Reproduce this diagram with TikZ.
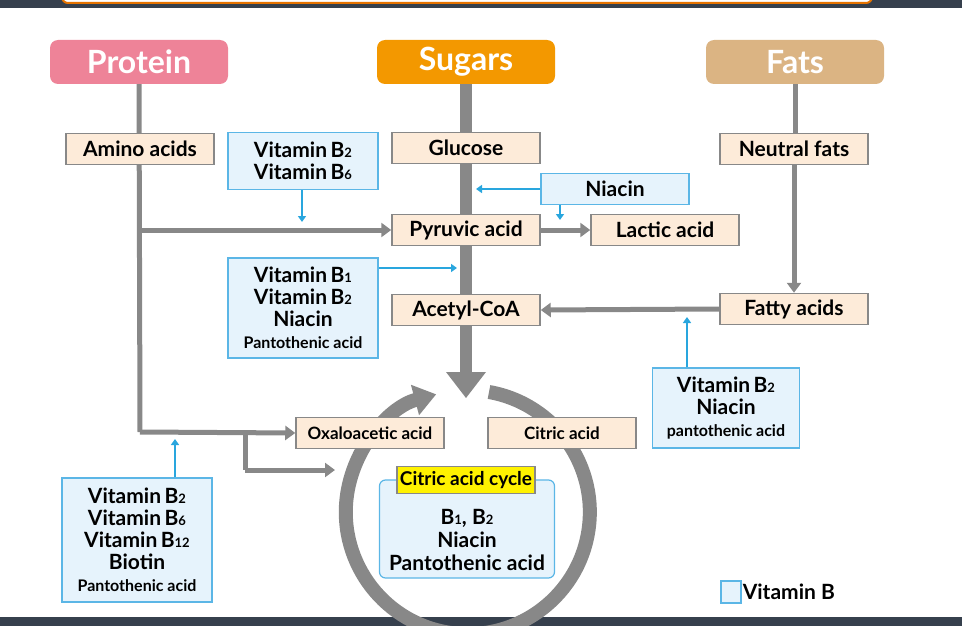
\documentclass[tikz,border=0pt]{standalone}
\usepackage{fontspec}
\setmainfont{Lato}
\usetikzlibrary{arrows.meta}
\definecolor{gr}{HTML}{888888}
\definecolor{cream}{HTML}{FDEBD9}
\definecolor{lb}{HTML}{E6F3FC}
\definecolor{bb}{HTML}{5BB6E6}
\definecolor{ba}{HTML}{29A6DE}
\definecolor{dark}{HTML}{36404D}
\newcommand{\vsb}[1]{{\fontsize{13}{13}\selectfont #1}}
\newcommand{\smt}{\fontsize{16}{19}\selectfont}
\begin{document}
\begin{tikzpicture}[x=1pt,y=-1pt,
 head/.style={rounded corners=8pt,minimum width=178pt,minimum height=44pt,text=white,font=\bfseries\fontsize{32}{32}\selectfont,inner sep=0pt},
 cb/.style={draw=gr,line width=1.5pt,fill=cream,minimum width=148pt,minimum height=31pt,font=\bfseries\fontsize{21}{21}\selectfont,inner sep=1pt},
 vb/.style={draw=bb,line width=1.2pt,fill=lb,align=center,font=\bfseries\fontsize{21}{22}\selectfont,inner sep=1pt},
 ga/.style={draw=gr,line width=5pt,-{Triangle[length=10pt,width=14pt]}},
 gl/.style={draw=gr,line width=5pt},
 bar/.style={draw=ba,line width=2.2pt,-{Triangle[length=6pt,width=8pt]}}]
\useasboundingbox (0,0) rectangle (962,626);
\fill[dark] (0,0) rectangle (962,8);
\draw[orange!90!black,line width=2pt,fill=white,rounded corners=6pt] (62,-20) rectangle (872,3);
\fill[dark] (0,617) rectangle (962,626);
% headers
\node[head,fill={rgb,255:red,238;green,131;blue,152}] (pro) at (139,62) {Protein};
\node[head,fill={rgb,255:red,243;green,152;blue,0}] (sug) at (466,62) {Sugars};
\node[head,fill={rgb,255:red,219;green,180;blue,131}] (fat) at (795,62) {Fats};
% circle
\draw[gr,line width=14pt,-{Triangle[length=22pt,width=30pt]}] (489,392) arc[start angle=-80,end angle=255,radius=122];
\draw[gr,line width=12pt] (sug.south) -- (466,375);
\coordinate (tip) at (466,398);
\fill[gr] (446,372) -- (486,372) -- (tip) -- cycle;
% lines
\coordinate (p1) at (140,230); \coordinate (p2) at (140,432); \coordinate (p3) at (245,432); \coordinate (p4) at (245,470);
\draw[gl] (pro.south) -- (p2);
\node[cb] (amino) at (140,149) {Amino acids};
\node[cb] (pyr) at (466,230) {Pyruvic acid};
\node[cb] (oxa) at (370,433) {\fontsize{17}{17}\selectfont Oxaloacetic acid};
\draw[ga] (p1) -- (pyr.west);
\draw[ga] (p2) -- (oxa.west);
\coordinate (cc) at (335,470);
\draw[gl] (p3) -- (p4);
\draw[ga] (p4) -- (cc);
\node[cb] (glu) at (466,148) {Glucose};
\node[cb] (ace) at (466,310) {Acetyl-CoA};
\node[cb] (lac) at (665,230) {Lactic acid};
\draw[ga] (pyr.east) -- (lac.west);
\node[cb] (cit) at (562,433) {\fontsize{17}{17}\selectfont Citric acid};
% fats
\draw[gl] (fat.south) -- (795,133);
\node[cb] (neu) at (794,149) {Neutral fats};
\node[cb] (fa) at (794,309) {Fatty acids};
\draw[ga] (neu.south) -- (fa.north);
\draw[ga] (fa.west) -- (ace.east);
% vitamin boxes
\node[vb,minimum width=150pt,minimum height=57pt] (v1) at (303,161) {Vitamin\,B\vsb{2}\\Vitamin\,B\vsb{6}};
\coordinate (v1t) at (302,222);
\draw[bar] (v1.south -| v1t) -- (v1t);
\node[vb,minimum width=148pt,minimum height=31pt] (nia) at (615,189) {Niacin};
\coordinate (n1) at (476,189); \coordinate (n2) at (560,220);
\draw[bar] (nia.west) -- (n1);
\draw[bar] (nia.south -| n2) -- (n2);
\node[vb,minimum width=150pt,minimum height=100pt] (v2) at (303,308) {Vitamin\,B\vsb{1}\\Vitamin\,B\vsb{2}\\Niacin\\{\smt Pantothenic acid}};
\coordinate (v2t) at (457,268);
\draw[bar] (v2.east |- v2t) -- (v2t);
\node[vb,minimum width=147pt,minimum height=80pt] (v3) at (726,408) {Vitamin\,B\vsb{2}\\Niacin\\{\smt pantothenic acid}};
\coordinate (v3t) at (687,317);
\draw[bar] (v3.north -| v3t) -- (v3t);
\node[vb,minimum width=150pt,minimum height=124pt] (v4) at (137,540) {Vitamin\,B\vsb{2}\\Vitamin\,B\vsb{6}\\Vitamin\,B\vsb{12}\\Biotin\\{\smt Pantothenic acid}};
\coordinate (v4t) at (175,439);
\draw[bar] (v4.north -| v4t) -- (v4t);
% cycle box
\node[vb,rounded corners=6pt,minimum width=175pt,minimum height=98pt] (cyc) at (467,529) {};
\node[align=center,font=\bfseries\fontsize{21}{23}\selectfont,inner sep=0pt] (cyct) at (467,540) {B\vsb{1}, B\vsb{2}\\Niacin\\Pantothenic acid};
\node[draw=gr,line width=1.5pt,fill=yellow,font=\bfseries\fontsize{19}{19}\selectfont,minimum height=27pt,inner sep=3pt] (cyt) at (466,480) {Citric acid cycle};
% legend
\node[draw=bb,line width=1.2pt,fill=lb,minimum width=20pt,minimum height=22pt] (leg) at (731,592) {};
\node[anchor=west,font=\bfseries\fontsize{21}{21}\selectfont,inner sep=1pt] (legt) at (leg.east) {Vitamin B};
\end{tikzpicture}
\end{document}
